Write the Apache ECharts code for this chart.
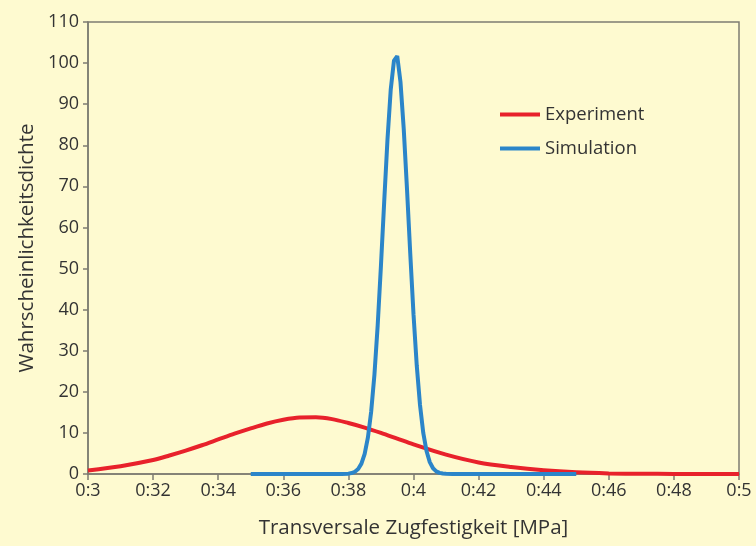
<!DOCTYPE html>
<html>
<head>
<meta charset="utf-8">
<script src="https://cdn.jsdelivr.net/npm/echarts@6/dist/echarts.min.js"></script>
<style>
html,body{margin:0;padding:0;background:#fefad0;}
#c{width:756px;height:546px;}
</style>
</head>
<body>
<div id="c"></div>
<script>
// Data
var xTickLabels = ['0:3','0:32','0:34','0:36','0:38','0:4','0:42','0:44','0:46','0:48','0:5'];
var yTickLabels = ['0','10','20','30','40','50','60','70','80','90','100','110'];

var expX = [0.30,0.31,0.32,0.325,0.33,0.335,0.34,0.345,0.35,0.355,0.36,0.365,0.37,0.375,0.38,0.385,0.39,0.395,0.40,0.41,0.42,0.43,0.44,0.45,0.46,0.47,0.48,0.49,0.50];
var expY = [0.85,1.9,3.4,4.5,5.7,7.0,8.4,9.8,11.1,12.3,13.2,13.75,13.8,13.35,12.4,11.3,10.0,8.6,7.2,4.7,2.8,1.7,0.9,0.4,0.15,0.05,0.02,0.0,0.0];

var simX = [0.350,0.360,0.370,0.375,0.378,0.380,0.381,0.382,0.383,0.384,0.385,0.386,0.387,0.388,0.389,0.390,0.391,0.392,0.393,0.394,0.395,0.396,0.397,0.398,0.399,0.400,0.401,0.402,0.403,0.404,0.405,0.406,0.407,0.408,0.409,0.410,0.412,0.415,0.420,0.430,0.440,0.450];
var simY = [0,0,0,0,0.02,0.09,0.23,0.55,1.22,2.53,4.9,8.9,15.2,24.2,36.2,50.7,66.3,81.3,93.5,100.6,101.7,95.4,84.0,69.4,53.7,38.9,26.4,16.8,10.0,5.6,2.9,1.4,0.65,0.28,0.11,0.04,0,0,0,0,0,0];

function pairs(xs, ys){ return xs.map(function(x,i){ return [x, ys[i]]; }); }

var axisColor = '#7d7c72';
var textColor = '#333333';
var font = 'Open Sans';

var chart = echarts.init(document.getElementById('c'));
chart.setOption({
  backgroundColor: '#fefad0',
  animation: false,
  textStyle: {fontFamily: font},
  grid: {left: 88, right: 17, top: 22, bottom: 72, show: true, borderColor: axisColor, borderWidth: 1.5, backgroundColor: 'transparent'},
  legend: {
    orient: 'vertical', left: 495, top: 100,
    itemWidth: 40, itemHeight: 4, itemGap: 15,
    icon: 'rect',
    textStyle: {fontSize: 18.5, color: textColor, fontFamily: font},
    data: ['Experiment','Simulation']
  },
  xAxis: {
    type: 'value', min: 0.3, max: 0.5, interval: 0.02,
    name: 'Transversale Zugfestigkeit [MPa]', nameLocation: 'middle', nameGap: 44,
    nameTextStyle: {fontSize: 20.5, color: textColor, fontFamily: font},
    axisLine: {show: true, lineStyle: {color: axisColor, width: 1.5}},
    axisTick: {show: true, length: 6, lineStyle: {color: axisColor, width: 1.5}},
    axisLabel: {fontSize: 18, color: textColor, margin: 8, fontFamily: font,
      formatter: function(v){ return xTickLabels[Math.round((v-0.3)/0.02)]; }},
    splitLine: {show: false}
  },
  yAxis: {
    type: 'value', min: 0, max: 110, interval: 10,
    name: 'Wahrscheinlichkeitsdichte', nameLocation: 'middle', nameGap: 47,
    nameTextStyle: {fontSize: 20.5, color: textColor, fontFamily: font},
    axisLine: {show: true, lineStyle: {color: axisColor, width: 1.5}},
    axisTick: {show: true, length: 5, lineStyle: {color: axisColor, width: 1.5}},
    axisLabel: {fontSize: 18, color: textColor, margin: 9, fontFamily: font,
      formatter: function(v){ return yTickLabels[Math.round(v/10)]; }},
    splitLine: {show: false}
  },
  series: [
    {name: 'Experiment', type: 'line', data: pairs(expX, expY), smooth: 0.3, showSymbol: false,
     color: '#e8212b', lineStyle: {width: 4, color: '#e8212b'}, z: 2},
    {name: 'Simulation', type: 'line', data: pairs(simX, simY), smooth: false, showSymbol: false,
     color: '#2b85c9', lineStyle: {width: 4, color: '#2b85c9'}, z: 3}
  ]
});
</script>
</body>
</html>
